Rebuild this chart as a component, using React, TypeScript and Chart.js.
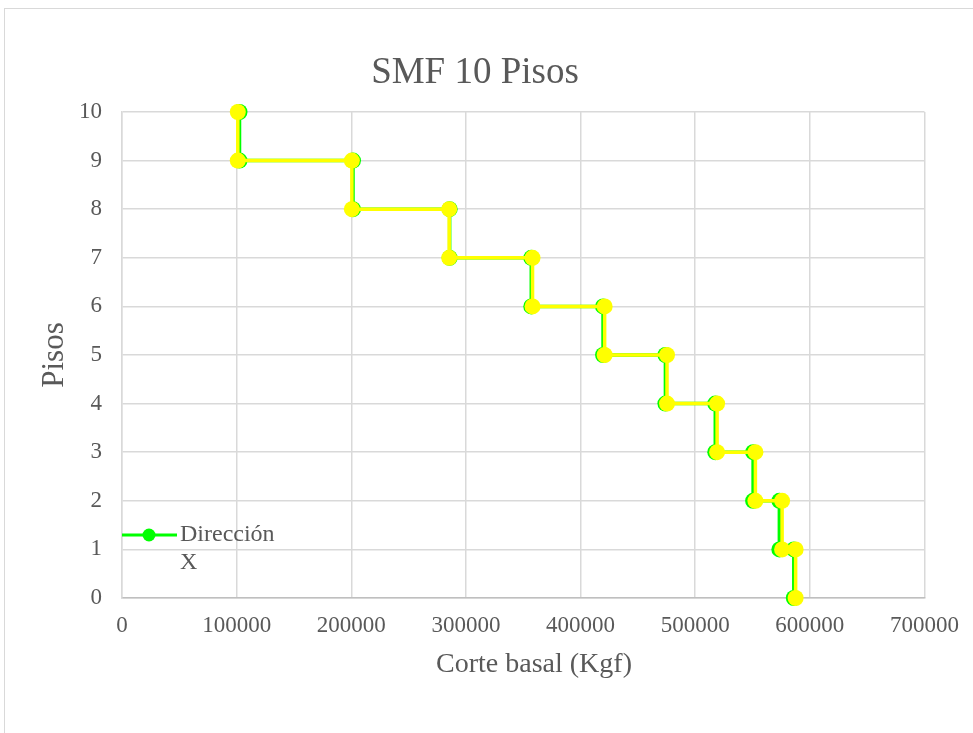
import React, { useEffect, useRef } from "react";
import { Chart, registerables } from "chart.js";

Chart.register(...registerables);

const chartTitle = "SMF 10 Pisos";
const xAxisTitle = "Corte basal (Kgf)";
const yAxisTitle = "Pisos";
const legendLines = ["Dirección", "X"];

// Storey levels (top to bottom); each storey's shear is drawn from level to level-1
const pisos = [10, 9, 8, 7, 6, 5, 4, 3, 2, 1];
// Dirección X (green)
const corteX = [102500, 201500, 285800, 357000, 419600, 474000, 517500, 550500, 573400, 586000];
// Second series (yellow)
const corteY = [101000, 200500, 285400, 358100, 421000, 475400, 519100, 552500, 575800, 587600];

const xTickLabels = ["0", "100000", "200000", "300000", "400000", "500000", "600000", "700000"];
const yTickLabels = ["0", "1", "2", "3", "4", "5", "6", "7", "8", "9", "10"];

const FONT = "'Liberation Serif', 'Times New Roman', serif";
const TEXT = "#595959";

function stepPoints(values: number[]) {
  const pts: { x: number; y: number }[] = [];
  pisos.forEach((p, i) => {
    pts.push({ x: values[i], y: p });
    pts.push({ x: values[i], y: p - 1 });
  });
  return pts;
}

const decorPlugin = {
  id: "decor",
  beforeDraw(chart: any) {
    const ctx = chart.ctx;
    ctx.save();
    ctx.fillStyle = "#ffffff";
    ctx.fillRect(0, 0, chart.width, chart.height);
    ctx.strokeStyle = "#d9d9d9";
    ctx.lineWidth = 1;
    ctx.strokeRect(4.5, 8.5, 2000, 2000);
    ctx.restore();
  },
  afterDraw(chart: any) {
    const ctx = chart.ctx;
    ctx.save();
    // chart title
    ctx.fillStyle = TEXT;
    ctx.font = `37px ${FONT}`;
    ctx.textAlign = "center";
    ctx.textBaseline = "alphabetic";
    ctx.fillText(chartTitle, 475, 83);
    // x axis title
    ctx.font = `28px ${FONT}`;
    ctx.textBaseline = "middle";
    ctx.fillText(xAxisTitle, 534, 665);
    // legend
    ctx.strokeStyle = "#00ff00";
    ctx.lineWidth = 3;
    ctx.beginPath();
    ctx.moveTo(122, 535);
    ctx.lineTo(177, 535);
    ctx.stroke();
    ctx.fillStyle = "#00ff00";
    ctx.beginPath();
    ctx.arc(149, 535, 6.5, 0, Math.PI * 2);
    ctx.fill();
    ctx.fillStyle = TEXT;
    ctx.font = `24px ${FONT}`;
    ctx.textAlign = "left";
    ctx.textBaseline = "middle";
    ctx.fillText(legendLines[0], 180, 535);
    ctx.fillText(legendLines[1], 180, 563);
    ctx.restore();
  },
};

export default function App() {
  const ref = useRef<HTMLCanvasElement | null>(null);
  useEffect(() => {
    if (!ref.current) return;
    const chart = new Chart(ref.current, {
      type: "scatter",
      data: {
        datasets: [
          {
            label: "Dirección Y",
            data: stepPoints(corteY),
            showLine: true,
            borderColor: "#ffff00",
            backgroundColor: "#ffff00",
            borderWidth: 3.5,
            pointRadius: 8,
            pointBorderWidth: 0,
            pointBackgroundColor: "#ffff00",
            clip: false,
          },
          {
            label: "Dirección X",
            data: stepPoints(corteX),
            showLine: true,
            borderColor: "#00ff00",
            backgroundColor: "#00ff00",
            borderWidth: 3.5,
            pointRadius: 8,
            pointBorderWidth: 0,
            pointBackgroundColor: "#00ff00",
            clip: false,
          },
        ],
      },
      options: {
        responsive: false,
        animation: false,
        layout: { padding: { left: 0, right: 47, top: 112, bottom: 0 } },
        plugins: { legend: { display: false }, title: { display: false }, tooltip: { enabled: false } },
        scales: {
          x: {
            type: "linear",
            min: 0,
            max: 700000,
            afterFit: (s: any) => { s.height = 135; },
            ticks: {
              stepSize: 100000,
              color: TEXT,
              font: { family: FONT, size: 23 },
              padding: 14,
              maxRotation: 0,
              callback: (_v: any, i: number) => xTickLabels[i],
            },
            grid: { color: "#d9d9d9", lineWidth: 1.5, drawTicks: false },
            border: { color: "#bfbfbf", width: 1.5 },
            title: { display: false, text: xAxisTitle },
          },
          y: {
            type: "linear",
            min: 0,
            max: 10,
            afterFit: (s: any) => { s.width = 122; },
            ticks: {
              stepSize: 1,
              color: TEXT,
              font: { family: FONT, size: 23 },
              padding: 20,
              callback: (_v: any, i: number) => yTickLabels[i],
            },
            grid: { color: "#d9d9d9", lineWidth: 1.5, drawTicks: false },
            border: { color: "#d9d9d9", width: 1.5 },
            title: {
              display: true,
              text: yAxisTitle,
              color: TEXT,
              font: { family: FONT, size: 31 },
              padding: { top: 36, bottom: 0 },
            },
          },
        },
      },
      plugins: [decorPlugin],
    });
    return () => chart.destroy();
  }, []);
  return (
    <canvas
      ref={ref}
      width={973}
      height={733}
      style={{ position: "absolute", left: 0, top: 0, display: "block" }}
    />
  );
}
